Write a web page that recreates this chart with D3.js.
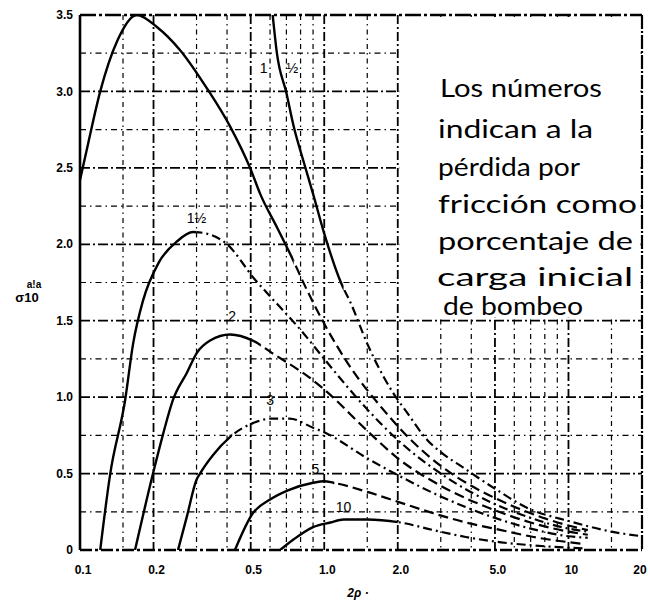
<!DOCTYPE html>
<html>
<head>
<meta charset="utf-8">
<script src="https://cdn.jsdelivr.net/npm/d3@7"></script>
<style>
  html, body { margin: 0; padding: 0; background: #fff; }
  svg { display: block; }
</style>
</head>
<body>
<svg id="chart" width="650" height="603"></svg>
<script>
// ---------- data ----------
const xGridValues = [0.1,0.15,0.2,0.3,0.4,0.5,0.6,0.7,0.8,0.9,1,1.5,2,3,4,5,6,7,8,9,10,15,20];
const xTickValues = [0.1,0.2,0.5,1,2,5,10,20];
const xTickLabels = ["0.1","0.2","0.5","1.0","2.0","5.0","10","20"];
const yGridValues = [0,0.25,0.5,0.75,1,1.25,1.5,1.75,2,2.25,2.5,2.75,3,3.25,3.5];
const yTickValues = [0,0.5,1,1.5,2,2.5,3,3.5];
const yTickLabels = ["0","0.5","1.0","1.5","2.0","2.5","3.0","3.5"];

const curveNames = ["½","1","1½","2","3","5","10"];
const curveHalf = [[0.615,3.5],[0.64,3.25],[0.7,2.99],[0.75,2.77],[0.82,2.55],[0.9,2.33],[1.0,2.07],[1.17,1.75],[1.28,1.62],[1.5,1.35],[1.74,1.14],[1.91,1.03],[2.18,0.9],[2.64,0.72],[3.0,0.64],[3.7,0.54],[4.9,0.41],[6.9,0.27],[10,0.19],[15,0.12],[20,0.09]];
const curveOne = [[0.1,2.42],[0.108,2.66],[0.121,3.0],[0.142,3.33],[0.171,3.5],[0.207,3.42],[0.257,3.27],[0.331,3.02],[0.412,2.77],[0.497,2.5],[0.55,2.32],[0.641,2.11],[0.724,1.94],[0.85,1.7],[1.0,1.48],[1.3,1.18],[1.7,0.94],[2.2,0.74],[3.0,0.55],[4.0,0.42],[5.0,0.34],[7.0,0.24],[10,0.16],[12,0.13]];
const curveOneHalf = [[0.121,0],[0.133,0.5],[0.153,0.98],[0.165,1.35],[0.181,1.63],[0.21,1.88],[0.25,2.02],[0.29,2.08],[0.33,2.07],[0.4,2.0],[0.52,1.77],[0.6,1.66],[0.82,1.42],[1.0,1.25],[1.5,0.92],[2.0,0.72],[3.0,0.5],[5.0,0.3],[7.0,0.21],[10,0.14],[12,0.12]];
const curveTwo = [[0.168,0],[0.199,0.5],[0.219,0.76],[0.24,0.98],[0.274,1.16],[0.301,1.29],[0.341,1.37],[0.412,1.41],[0.51,1.37],[0.61,1.29],[0.9,1.11],[1.0,1.05],[1.5,0.78],[2.0,0.6],[3.0,0.42],[5.0,0.26],[7.0,0.18],[10,0.12],[12,0.1]];
const curveThree = [[0.252,0],[0.274,0.22],[0.3,0.46],[0.31,0.5],[0.35,0.62],[0.412,0.74],[0.51,0.83],[0.61,0.86],[0.72,0.86],[0.9,0.8],[1.0,0.77],[1.5,0.6],[2.0,0.49],[3.0,0.35],[5.0,0.21],[7.0,0.14],[10,0.09],[12,0.08]];
const curveFive = [[0.431,0],[0.51,0.24],[0.6,0.33],[0.71,0.39],[0.9,0.44],[1.0,0.45],[1.09,0.44],[1.5,0.38],[2.05,0.31],[2.8,0.24],[3.8,0.18],[5.3,0.13],[7.2,0.085],[11.5,0.04]];
const curveTen = [[0.66,0],[0.75,0.07],[0.9,0.15],[1.06,0.18],[1.2,0.2],[1.5,0.2],[2.05,0.18],[2.8,0.13],[3.8,0.085],[5.3,0.05],[7.2,0.03],[11.5,0.01]];
const curvesData = [curveHalf, curveOne, curveOneHalf, curveTwo, curveThree, curveFive, curveTen];
// x value where each curve turns from solid to dashed
const solidUntil = [1.2, 0.75, 0.3, 0.55, 0.42, 1.1, 2.0];

const noteLines = ["Los  números","indican a la","pérdida por","fricción como","porcentaje de","carga inicial","de bombeo"];

// ---------- layout ----------
const svg = d3.select("#chart");
const x = d3.scaleLog().domain([0.1, 20]).range([80, 642]);
const y = d3.scaleLinear().domain([0, 3.5]).range([550, 15]);

const defs = svg.append("defs");
defs.append("clipPath").attr("id","plotClip").append("rect")
  .attr("x",80).attr("y",15).attr("width",562).attr("height",535);

// ---------- grid ----------
const majorX = [0.2,0.5,1,2,5,10];
const grid = svg.append("g").attr("stroke","#000").attr("fill","none");
grid.selectAll("line.v").data(xGridValues.slice(1, -1)).join("line")
  .attr("class","v")
  .attr("x1", d => x(d)).attr("x2", d => x(d))
  .attr("y1", y(3.5)).attr("y2", y(0))
  .attr("stroke-width", d => majorX.includes(d) ? 1.8 : 1.2)
  .attr("stroke-dasharray", d => majorX.includes(d) ? "9,3,2,3" : "5,4,1.5,4");
grid.selectAll("line.h").data(yGridValues.slice(1, -1)).join("line")
  .attr("class","h")
  .attr("x1", x(0.1)).attr("x2", x(20))
  .attr("y1", d => y(d)).attr("y2", d => y(d))
  .attr("stroke-width", d => (d * 2) % 1 === 0 ? 1.8 : 1.2)
  .attr("stroke-dasharray", d => (d * 2) % 1 === 0 ? "10,3,2,3" : "6,4,1.5,4");

// white note box over the grid
svg.append("rect").attr("x", x(2) + 1.5).attr("y", y(3.5) + 2)
  .attr("width", x(20) - x(2) - 3).attr("height", y(1.5) - y(3.5) - 5)
  .attr("fill", "#fff");

// frame
const frame = svg.append("g").attr("stroke","#000").attr("fill","none");
frame.append("line").attr("x1",x(0.1)).attr("x2",x(0.1)).attr("y1",y(3.5)).attr("y2",y(0)).attr("stroke-width",2.6);
frame.append("line").attr("x1",x(20)).attr("x2",x(20)).attr("y1",y(3.5)).attr("y2",y(0)).attr("stroke-width",2.2).attr("stroke-dasharray","14,2,2,2");
frame.append("line").attr("x1",x(0.1)).attr("x2",x(20)).attr("y1",y(3.5)).attr("y2",y(3.5)).attr("stroke-width",2.4).attr("stroke-dasharray","16,3,3,3");
frame.append("line").attr("x1",x(0.1)).attr("x2",x(20)).attr("y1",y(0)).attr("y2",y(0)).attr("stroke-width",2.4).attr("stroke-dasharray","12,3,3,3");

// ---------- curves ----------
const line = d3.line().x(d => x(d[0])).y(d => y(d[1])).curve(d3.curveMonotoneX);
const curvesG = svg.append("g").attr("clip-path","url(#plotClip)").attr("fill","none").attr("stroke","#000");
curvesData.forEach((pts, i) => {
  const cut = x(solidUntil[i]);
  defs.append("clipPath").attr("id","solid"+i).append("rect").attr("x",0).attr("y",0).attr("width",cut).attr("height",603);
  defs.append("clipPath").attr("id","dash"+i).append("rect").attr("x",cut).attr("y",0).attr("width",650-cut).attr("height",603);
  curvesG.append("g").attr("clip-path","url(#solid"+i+")")
    .append("path").attr("d", line(pts)).attr("stroke-width", 2.4);
  curvesG.append("g").attr("clip-path","url(#dash"+i+")")
    .append("path").attr("d", line(pts)).attr("stroke-width", 2.2)
    .attr("stroke-dasharray", i % 2 === 0 ? "9,4,2,4" : "10,5");
});

// curve labels
const labelPos = [[0.74,3.12],[0.565,3.12],[0.3,2.14],[0.42,1.5],[0.6,0.95],[0.92,0.5],[1.2,0.25]];
svg.append("g").selectAll("text").data(curveNames).join("text")
  .attr("x", (d,i) => x(labelPos[i][0])).attr("y", (d,i) => y(labelPos[i][1]))
  .attr("font-family","Liberation Sans, Arial, sans-serif").attr("font-size",14)
  .attr("text-anchor","middle").attr("fill","#000")
  .text(d => d);

// ---------- axes ticks ----------
const tickFont = "Liberation Sans, Arial, sans-serif";
svg.append("g").selectAll("text").data(yTickValues).join("text")
  .attr("x", 73).attr("y", d => y(d)).attr("dy","0.35em")
  .attr("text-anchor","end").attr("font-family",tickFont).attr("font-weight","bold")
  .attr("font-size",12).attr("fill","#000")
  .text((d,i) => yTickLabels[i]);
svg.append("g").selectAll("text").data(xTickValues).join("text")
  .attr("x", d => Math.min(x(d) + 3, 640)).attr("y", 574)
  .attr("text-anchor","middle").attr("font-family",tickFont).attr("font-weight","bold")
  .attr("font-size",12).attr("fill","#000")
  .text((d,i) => xTickLabels[i]);

// axis titles
svg.append("text").attr("x", 358).attr("y", 597).attr("text-anchor","middle")
  .attr("font-family",tickFont).attr("font-weight","bold").attr("font-style","italic")
  .attr("font-size",12).text("2ρ ·");
svg.append("text").attr("x", 34).attr("y", 288).attr("text-anchor","middle")
  .attr("font-family",tickFont).attr("font-weight","bold").attr("font-size",10).text("a!a");
svg.append("text").attr("x", 27).attr("y", 302).attr("text-anchor","middle")
  .attr("font-family",tickFont).attr("font-weight","bold").attr("font-size",13).text("σ10");

// ---------- note text ----------
const noteBase = [97, 138, 176, 213, 250, 286, 315];
const noteX = [440, 438, 438, 438, 438, 437, 443];
const noteW = [162, 155, 142, 199, 195, 196, 140];
svg.append("g").selectAll("text").data(noteLines).join("text")
  .attr("x", (d,i) => noteX[i]).attr("y", (d,i) => noteBase[i])
  .attr("font-family","Lato, 'Open Sans', sans-serif").attr("font-size",25)
  .attr("fill","#000")
  .attr("textLength", (d,i) => noteW[i]).attr("lengthAdjust","spacingAndGlyphs")
  .text(d => d);
</script>
</body>
</html>
